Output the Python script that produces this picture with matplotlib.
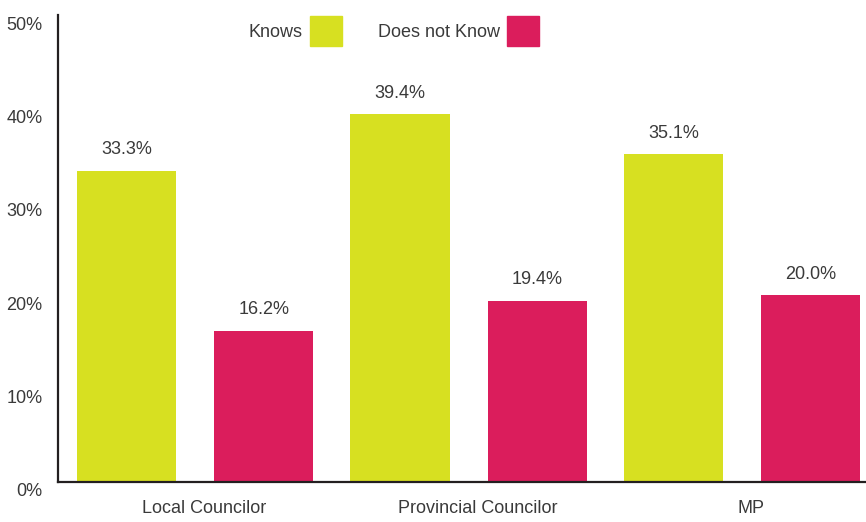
import numpy as np
import matplotlib
matplotlib.use("Agg")
import matplotlib.pyplot as plt
import matplotlib.transforms as mtransforms
from matplotlib.patches import Patch

# Share of respondents who know their representative, by office
categories = ["Local Councilor", "Provincial Councilor", "MP"]
knows = [33.3, 39.4, 35.1]
does_not_know = [16.2, 19.4, 20.0]
series_names = ["Knows", "Does not Know"]

YELLOW = "#D7E021"
MAGENTA = "#DB1D5C"
TEXT = "#3a3a3a"
FS = 13

plt.rcParams["font.family"] = ["Liberation Sans", "DejaVu Sans"]

fig = plt.figure(figsize=(8.66, 5.22), dpi=100)
ax = fig.add_axes([58 / 866, 40 / 522, 807 / 866, 467 / 522])

x = np.arange(len(categories))
width = 0.363
b1 = ax.bar(x - 0.251, knows, width, color=YELLOW, label=series_names[0])
b2 = ax.bar(x + 0.251, does_not_know, width, color=MAGENTA, label=series_names[1])

for bars in (b1, b2):
    for bar in bars:
        ax.annotate(f"{bar.get_height():.1f}%",
                    (bar.get_x() + bar.get_width() / 2, bar.get_height()),
                    xytext=(0, 9), textcoords="offset points",
                    ha="center", va="bottom", fontsize=FS, color=TEXT)

ax.set_xlim(-0.502, 2.45)
ax.set_ylim(0, 50)
ax.set_yticks(range(0, 51, 10))
ax.set_yticklabels([f"{v}%" for v in range(0, 51, 10)], fontsize=FS, color=TEXT)
ax.set_xticks(x)
ax.set_xticklabels(categories, fontsize=FS, color=TEXT)
ax.tick_params(axis="both", length=0)
ax.tick_params(axis="y", pad=11)
ax.tick_params(axis="x", pad=13)

# shift tick labels: y labels sit a little below their value, x labels a little right
dy = mtransforms.ScaledTranslation(0, -8 / 100, fig.dpi_scale_trans)
for lbl in ax.get_yticklabels():
    lbl.set_transform(lbl.get_transform() + dy)
dx = mtransforms.ScaledTranslation(9 / 100, 0, fig.dpi_scale_trans)
for lbl in ax.get_xticklabels():
    lbl.set_transform(lbl.get_transform() + dx)

for side in ("top", "right"):
    ax.spines[side].set_visible(False)
for side in ("left", "bottom"):
    ax.spines[side].set_linewidth(1.6)
    ax.spines[side].set_color("#231F20")

handles = [Patch(color=YELLOW), Patch(color=MAGENTA)]
ax.legend(handles, series_names, ncol=2, markerfirst=False, frameon=False,
          fontsize=FS, labelcolor=TEXT,
          handlelength=1.75, handleheight=2.2, handletextpad=0.4,
          columnspacing=2.0, borderpad=0, borderaxespad=0,
          loc="upper left", bbox_to_anchor=(249 / 866, 1 - 16 / 522),
          bbox_transform=fig.transFigure)

fig.savefig("out.png", dpi=100, facecolor="white")
